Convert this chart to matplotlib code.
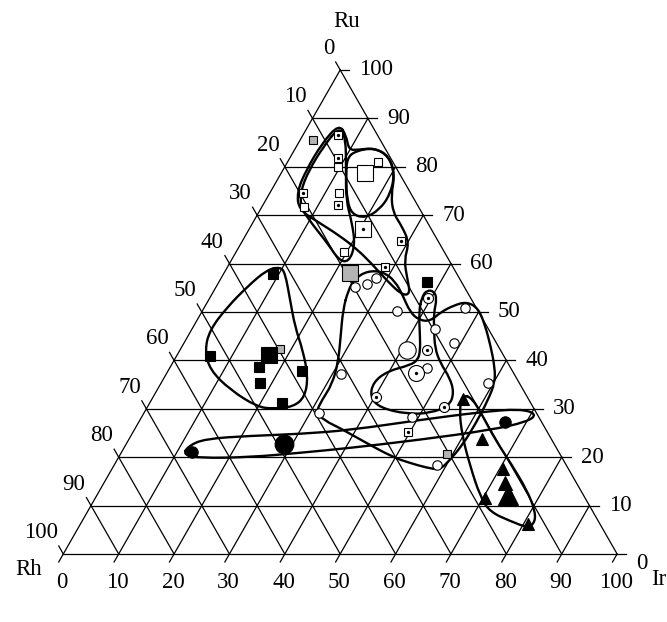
import numpy as np
import matplotlib
matplotlib.use("Agg")
import matplotlib.pyplot as plt
from matplotlib.path import Path
from matplotlib.patches import PathPatch

# compositions as (Ru, Ir) in %, Rh = 100 - Ru - Ir
gray_sq = [(85.5, 2.3), (42.4, 18.0), (20.7, 59.0)]
gray_sq_big = [(58.1, 22.7)]
black_sq = [(57.9, 8.9), (56.2, 37.6), (40.9, 6.0), (38.6, 16.0), (35.3, 17.9),
            (37.8, 24.2), (31.2, 23.9)]
black_sq_big = [(41.1, 16.6)]
open_sq = [(81.0, 16.3), (80.0, 9.6), (74.6, 12.5), (71.7, 7.6), (62.4, 19.5)]
open_sq_big = [(78.7, 15.1)]
dot_sq = [(86.6, 6.3), (81.8, 8.7), (74.6, 6.0), (72.1, 13.5), (64.7, 28.6),
          (59.3, 28.4), (25.2, 49.6)]
dot_sq_big = [(67.1, 20.6)]
open_circ = [(55.2, 25.1), (55.8, 26.9), (57.0, 28.0), (50.2, 35.2), (50.8, 47.1),
             (46.5, 43.9), (43.6, 48.8), (38.4, 46.5), (37.2, 31.6), (28.3, 48.8),
             (35.3, 59.0), (29.1, 31.6), (18.4, 58.3)]
open_circ_big = [(42.1, 41.0)]
dot_circ = [(52.9, 39.4), (42.1, 44.6), (32.4, 40.3), (30.4, 53.6)]
dot_circ_big = [(37.4, 45.0)]
black_circ = [(21.1, 12.7), (27.3, 66.1)]
black_circ_big = [(22.7, 28.5)]
tri = [(32.0, 56.2), (23.8, 63.7), (17.6, 70.6), (11.6, 70.4), (6.2, 80.8)]
tri_mid = [(14.7, 72.4)]
tri_big = [(12.2, 74.2)]

# outlines of the groups, (Ru, Ir)
loop_black_sq = [(59.3, 9.5), (58.1, 11.0), (52.5, 14.7), (46.9, 18.4), (42.1, 22.2),
                 (36.6, 25.9), (32.4, 27.4), (30.4, 26.3), (30.0, 22.9), (30.4, 19.8),
                 (33.9, 13.2), (38.0, 7.5), (42.1, 4.5), (46.3, 3.3), (51.0, 4.1),
                 (55.2, 5.6), (58.7, 7.4)]
loop_band = [(22.3, 11.4), (23.8, 13.7), (24.4, 21.5), (24.8, 30.4), (25.6, 39.0),
             (27.7, 50.6), (29.3, 60.6), (30.0, 67.5), (28.9, 71.1), (27.3, 70.1),
             (25.6, 64.3), (23.6, 52.6), (21.9, 40.8), (20.9, 32.3), (20.0, 23.7),
             (19.8, 14.8), (20.5, 11.4)]
loop_tri = [(32.9, 55.7), (29.8, 56.6), (24.6, 59.7), (18.4, 64.2), (11.8, 69.4),
            (8.7, 72.7), (6.8, 77.3), (5.4, 81.2), (6.6, 81.9), (9.1, 80.6),
            (13.2, 77.1), (18.4, 71.8), (23.6, 66.2), (28.7, 61.3), (32.2, 57.7)]
loop_open_circ = [(54.5, 24.2), (57.0, 24.2), (58.5, 25.8), (58.3, 28.6), (56.4, 31.7),
                  (53.3, 34.7), (50.0, 37.6), (48.3, 40.1), (48.1, 42.2), (50.0, 43.2),
                  (51.4, 44.9), (52.1, 46.8), (50.8, 49.5), (47.3, 52.5), (42.8, 55.8),
                  (38.6, 58.6), (35.5, 60.2), (31.8, 60.8), (26.7, 61.0), (22.5, 60.8),
                  (19.4, 60.1), (17.4, 59.3), (17.8, 56.8), (18.8, 53.2), (20.0, 49.5),
                  (23.3, 42.5), (26.0, 37.0), (27.5, 33.5), (29.3, 31.0), (31.8, 30.8),
                  (35.1, 31.0), (39.7, 29.8), (45.2, 27.5), (50.4, 25.3)]
loop_dot_circ = [(53.1, 38.2), (54.5, 38.4), (54.3, 39.8), (52.7, 41.1), (49.8, 42.0),
                 (46.3, 43.8), (42.6, 45.8), (39.5, 48.3), (36.4, 51.6), (33.3, 53.9),
                 (30.6, 54.4), (29.1, 51.7), (28.9, 47.6), (30.2, 42.1), (32.4, 39.2),
                 (35.5, 38.2), (37.8, 39.7), (39.0, 43.1), (40.1, 44.0), (42.1, 43.4),
                 (45.2, 41.8), (50.0, 39.2)]
loop_upper_inner = [(88.2, 5.7), (86.0, 8.0), (79.3, 11.4), (73.1, 14.5), (68.6, 17.8),
                    (63.8, 20.8), (60.3, 21.4), (60.7, 19.4), (64.3, 15.5), (68.2, 10.8),
                    (71.5, 7.2), (74.8, 5.4), (79.3, 4.7), (84.3, 4.9)]
loop_upper_outer = [(88.8, 5.4), (84.9, 4.3), (79.3, 4.2), (74.8, 4.8), (71.1, 7.0),
                    (68.6, 11.7), (65.7, 17.1), (63.0, 21.5), (59.9, 25.8), (56.4, 30.3),
                    (53.5, 34.4), (53.7, 35.8), (57.0, 33.6), (60.7, 31.2), (64.3, 30.3),
                    (67.6, 27.4), (70.5, 24.3), (74.2, 22.1), (78.3, 20.7), (82.2, 17.7),
                    (83.9, 14.2), (83.5, 11.5), (83.5, 9.8), (86.4, 7.9)]
loop_lobe = [(81.8, 10.3), (83.3, 11.2), (83.9, 14.2), (82.2, 17.7), (78.5, 20.6),
             (74.2, 21.9), (71.1, 21.5), (69.4, 19.8), (70.2, 17.0), (73.1, 14.7),
             (77.7, 12.2)]

ticks = list(range(0, 101, 10))

H = np.sqrt(3) / 2
PX = 0.72  # points per pixel at dpi 100


def tern(pts):
    ru = np.array([p[0] for p in pts], float)
    ir = np.array([p[1] for p in pts], float)
    return ir + ru / 2, ru * H


def draw_loop(ax, pts):
    x, y = tern(pts)
    P = np.column_stack([x, y])
    M = (P + np.roll(P, -1, axis=0)) / 2
    verts = [M[-1]]
    codes = [Path.MOVETO]
    for i in range(len(P)):
        verts += [P[i], M[i]]
        codes += [Path.CURVE3, Path.CURVE3]
    ax.add_patch(PathPatch(Path(verts, codes), fill=False, lw=1.7, ec="black",
                           zorder=3, capstyle="round", joinstyle="round"))


def draw_points(ax, pts, marker, size, fc, dot=False):
    x, y = tern(pts)
    ax.plot(x, y, ls="none", marker=marker, ms=size, mfc=fc, mec="black",
            mew=0.8, zorder=5)
    if dot:
        ax.plot(x, y, ls="none", marker="o", ms=2.4, mfc="black", mec="black",
                mew=0, zorder=6)


fig = plt.figure(figsize=(6.67, 6.22), dpi=100)
ax = fig.add_axes([0, 0, 1, 1])
ax.set_xlim(-11.43, 109.01)
ax.set_ylim(-12.17, 99.12)
ax.axis("off")

# grid
for k in ticks[:-1]:
    a = tern([(k, 0), (k, 100 - k)])
    b = tern([(0, k), (100 - k, k)])
    c = tern([(0, 100 - k), (100 - k, 0)])
    for xs, ys in (a, b, c):
        ax.plot(xs, ys, color="black", lw=0.9, zorder=1)

t = 1.65
font = dict(family="Liberation Serif", fontsize=16.5)
for k in ticks:
    # Ru, right side
    x0, y0 = tern([(k, 100 - k)])
    ax.plot([x0[0], x0[0] + t], [y0[0], y0[0]], color="black", lw=0.9)
    dy = -10 if k == 0 else 0
    ax.annotate(str(k), (x0[0] + t, y0[0]), xytext=(10 * PX, dy * PX),
                textcoords="offset points", ha="left", va="center", **font)
    # Rh, left side
    x0, y0 = tern([(100 - k, 0)])
    xe, ye = x0[0] - 0.5 * t, y0[0] + H * t
    ax.plot([x0[0], xe], [y0[0], ye], color="black", lw=0.9)
    ax.annotate(str(k), (xe, ye), xytext=(-1 * PX, 3 * PX),
                textcoords="offset points", ha="right", va="bottom", **font)
    # Ir, bottom
    x0, y0 = tern([(0, k)])
    ax.plot([x0[0], x0[0] - 0.5 * t], [y0[0], y0[0] - H * t], color="black", lw=0.9)
    ax.annotate(str(k), (x0[0], y0[0]), xytext=(-1 * PX, -18 * PX),
                textcoords="offset points", ha="center", va="top", **font)

ax.annotate("Ru", (50, 100 * H), xytext=(6 * PX, 48 * PX), textcoords="offset points",
            ha="center", va="center", **font)
ax.annotate("Rh", (0, 0), xytext=(-35 * PX, -16 * PX), textcoords="offset points",
            ha="center", va="center", **font)
ax.annotate("Ir", (100, 0), xytext=(42 * PX, -26 * PX), textcoords="offset points",
            ha="center", va="center", **font)

for lp in (loop_black_sq, loop_band, loop_tri, loop_open_circ, loop_dot_circ,
           loop_upper_inner, loop_upper_outer, loop_lobe):
    draw_loop(ax, lp)

gray = "#b4b4b4"
draw_points(ax, gray_sq, "s", 6.3, gray)
draw_points(ax, gray_sq_big, "s", 11, gray)
draw_points(ax, black_sq, "s", 6.8, "black")
draw_points(ax, black_sq_big, "s", 11.5, "black")
draw_points(ax, open_sq, "s", 6.3, "white")
draw_points(ax, open_sq_big, "s", 11.5, "white")
draw_points(ax, dot_sq, "s", 6.3, "white", dot=True)
draw_points(ax, dot_sq_big, "s", 11, "white", dot=True)
draw_points(ax, open_circ, "o", 6.8, "white")
draw_points(ax, open_circ_big, "o", 12.5, "white")
draw_points(ax, dot_circ, "o", 7.2, "white", dot=True)
draw_points(ax, dot_circ_big, "o", 11.5, "white", dot=True)
draw_points(ax, black_circ, "o", 8.2, "black")
draw_points(ax, black_circ_big, "o", 13.5, "black")
draw_points(ax, tri, "^", 8, "black")
draw_points(ax, tri_mid, "^", 9.5, "black")
draw_points(ax, tri_big, "^", 15, "black")

fig.savefig("out.png", dpi=100)
